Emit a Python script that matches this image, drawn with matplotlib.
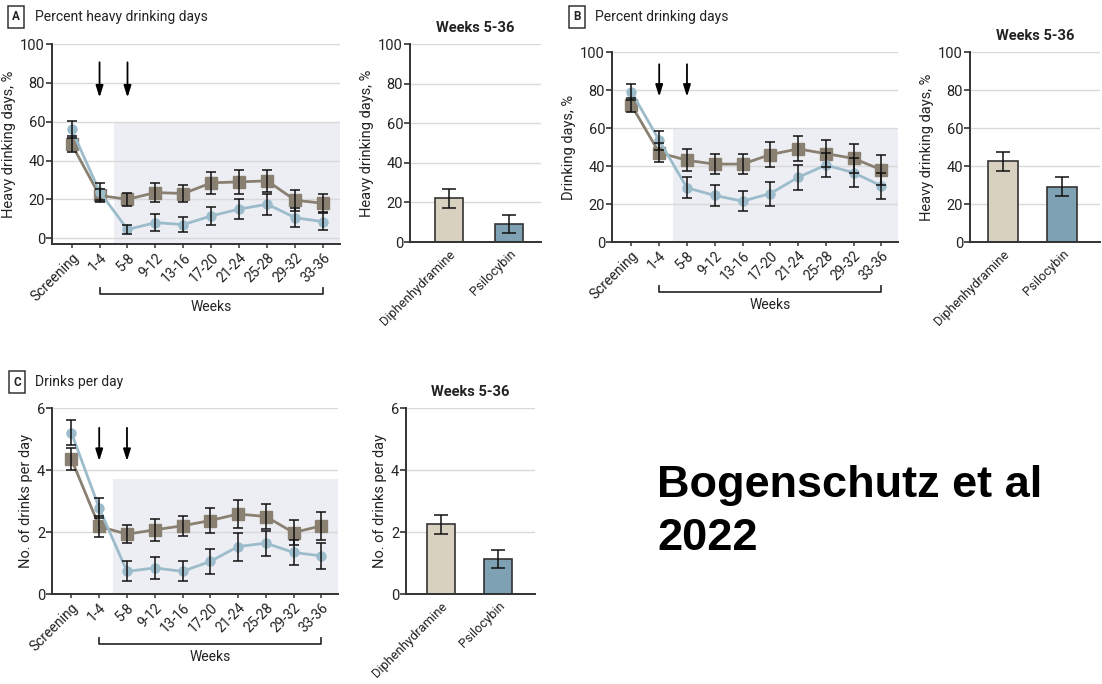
import matplotlib
matplotlib.use("Agg")
import matplotlib.pyplot as plt
from matplotlib.patches import Rectangle

plt.rcParams['font.family'] = ['Roboto', 'DejaVu Sans']

W, H = 1102, 684

weeks = ["Screening", "1-4", "5-8", "9-12", "13-16", "17-20", "21-24", "25-28", "29-32", "33-36"]
groups = ["Diphenhydramine", "Psilocybin"]

# A: percent heavy drinking days
A_diph = [48.5, 22, 20, 23.5, 23, 28.5, 29, 29.5, 19.5, 18]
A_diph_err = [4, 3.5, 3.5, 5, 4.5, 5.5, 6, 5.5, 5.5, 4.5]
A_psil = [56, 24, 4.5, 8, 7, 11.5, 15, 17.5, 10.5, 8.5]
A_psil_err = [4.5, 4.5, 2.5, 4.5, 4, 4.5, 5, 5.5, 5, 4.5]
A_bar = [22, 9]
A_bar_err = [5, 4.5]

# B: percent drinking days
B_diph = [72, 47, 43, 41, 41, 46, 49, 46.5, 44, 38]
B_diph_err = [3.8, 5, 5.8, 5.4, 5.4, 6.5, 6.6, 7, 7.8, 8]
B_psil = [79, 53.5, 28.5, 24.5, 21.5, 25.5, 34, 40.5, 36.5, 29.5]
B_psil_err = [4, 5, 5.6, 5.4, 5.4, 6.3, 6.5, 6.5, 7.5, 6.7]
B_bar = [42.5, 29]
B_bar_err = [5, 5]

# C: drinks per day
C_diph = [4.35, 2.18, 1.93, 2.07, 2.2, 2.37, 2.58, 2.5, 1.98, 2.2]
C_diph_err = [0.35, 0.33, 0.3, 0.36, 0.32, 0.4, 0.45, 0.4, 0.4, 0.45]
C_psil = [5.2, 2.77, 0.73, 0.84, 0.73, 1.05, 1.53, 1.64, 1.34, 1.23]
C_psil_err = [0.4, 0.32, 0.32, 0.36, 0.32, 0.4, 0.45, 0.4, 0.4, 0.43]
C_bar = [2.25, 1.13]
C_bar_err = [0.3, 0.28]

DIPH_LINE = "#8a8072"
PSIL_LINE = "#9dbccb"
DIPH_BAR = "#d9d1c0"
PSIL_BAR = "#7ea2b3"
SHADE = "#eceef3"
GRID = "#d9d9d9"
SPINE = "#333333"
TXT = "#222222"

fig = plt.figure(figsize=(W / 100, H / 100), dpi=100)


def px_axes(left, top, right, bottom):
    return fig.add_axes([left / W, 1 - bottom / H, (right - left) / W, (bottom - top) / H])


def style_axes(ax, yticks):
    for s in ("top", "right"):
        ax.spines[s].set_visible(False)
    for s in ("left", "bottom"):
        ax.spines[s].set_color(SPINE)
        ax.spines[s].set_linewidth(1.4)
    ax.set_yticks(yticks)
    ax.tick_params(axis="y", length=4, width=1.2, color=SPINE, labelsize=10.5, labelcolor=TXT, pad=1)
    ax.grid(axis="y", color=GRID, linewidth=1.0)
    ax.set_axisbelow(True)


def line_panel(rect, diph, diph_err, psil, psil_err, ylim, yticks, ylabel, shade_top, arrow, height_px):
    ax = px_axes(*rect)
    x = list(range(len(weeks)))
    ax.set_xlim(-0.7, 9.6)
    ax.set_ylim(*ylim)
    style_axes(ax, yticks)
    ax.add_patch(Rectangle((1.5, ylim[0]), 9.6 - 1.5, shade_top - ylim[0],
                           facecolor=SHADE, edgecolor="none", zorder=0))
    ax.plot(x, diph, color=DIPH_LINE, lw=2, marker="s", ms=8, zorder=3)
    ax.plot(x, psil, color=PSIL_LINE, lw=2, marker="o", ms=6.5, zorder=3)
    ax.errorbar(x, diph, yerr=diph_err, fmt="none", ecolor="#111111", elinewidth=1.1, capsize=3.5, capthick=1.1, zorder=4)
    ax.errorbar(x, psil, yerr=psil_err, fmt="none", ecolor="#111111", elinewidth=1.1, capsize=3.5, capthick=1.1, zorder=4)
    ax.set_xticks(x)
    ax.set_xticklabels(weeks, rotation=45, ha="right", rotation_mode="anchor", fontsize=10, color=TXT)
    ax.tick_params(axis="x", length=3, width=1.1, color=SPINE, pad=2)
    ax.set_ylabel(ylabel, fontsize=10.5, color=TXT, labelpad=3)
    # dosing arrows at weeks 1-4 and 5-8
    for xi in (1, 2):
        ax.annotate("", xy=(xi, arrow[1]), xytext=(xi, arrow[0]),
                    arrowprops=dict(arrowstyle="-|>,head_length=0.7,head_width=0.22", color="black", lw=1.3))
    # bracket over the treatment weeks
    yb = -50 / height_px
    tr = ax.get_xaxis_transform()
    ax.plot([1, 1, 9, 9], [yb + 6 / height_px, yb, yb, yb + 6 / height_px], color=SPINE, lw=1.3,
            transform=tr, clip_on=False)
    ax.text(5, yb - 6 / height_px, "Weeks", transform=tr, ha="center", va="top", fontsize=10, color=TXT)
    return ax


def bar_panel(rect, vals, errs, ylim, yticks, ylabel, xlim, width):
    ax = px_axes(*rect)
    x = list(range(len(groups)))
    ax.set_xlim(*xlim)
    ax.set_ylim(*ylim)
    style_axes(ax, yticks)
    ax.bar(x, vals, width=width, color=[DIPH_BAR, PSIL_BAR], edgecolor=SPINE, linewidth=1.2, zorder=2)
    ax.errorbar(x, vals, yerr=errs, fmt="none", ecolor="#111111", elinewidth=1.1, capsize=5, capthick=1.1, zorder=3)
    ax.set_xticks(x)
    ax.set_xticklabels(groups, rotation=45, ha="right", rotation_mode="anchor", fontsize=9.3, color=TXT)
    ax.tick_params(axis="x", length=0, pad=4)
    ax.set_ylabel(ylabel, fontsize=10.5, color=TXT, labelpad=3)
    ax.set_title("Weeks 5-36", fontsize=10.5, fontweight="bold", color=TXT, pad=9)
    return ax


line_panel((52, 44, 340, 244), A_diph, A_diph_err, A_psil, A_psil_err, (-3, 100), [0, 20, 40, 60, 80, 100],
           "Heavy drinking days, %", 60, (92, 71), 200)
bar_panel((410, 44, 541, 242), A_bar, A_bar_err, (0, 100), [0, 20, 40, 60, 80, 100],
          "Heavy drinking days, %", (-0.64, 1.53), 0.46)

line_panel((612, 52, 898, 242), B_diph, B_diph_err, B_psil, B_psil_err, (0, 100), [0, 20, 40, 60, 80, 100],
           "Drinking days, %", 60, (95, 75), 190)
bar_panel((970, 52, 1100, 242), B_bar, B_bar_err, (0, 100), [0, 20, 40, 60, 80, 100],
          "Heavy drinking days, %", (-0.56, 1.64), 0.5)

line_panel((52, 408, 338, 594), C_diph, C_diph_err, C_psil, C_psil_err, (0, 6), [0, 2, 4, 6],
           "No. of drinks per day", 3.7, (5.45, 4.2), 186)
bar_panel((406, 408, 535, 594), C_bar, C_bar_err, (0, 6), [0, 2, 4, 6],
          "No. of drinks per day", (-0.61, 1.65), 0.49)

# panel headers
for letter, lx, tx, ty, title in [("A", 16, 35, 17, "Percent heavy drinking days"),
                                   ("B", 577, 595, 17, "Percent drinking days"),
                                   ("C", 17, 35, 382, "Drinks per day")]:
    fig.text(lx / W, 1 - ty / H, letter, ha="center", va="center", fontsize=8.5, fontweight="bold", color=TXT,
             bbox=dict(boxstyle="square,pad=0.35", facecolor="white", edgecolor=SPINE, linewidth=1.1))
    fig.text(tx / W, 1 - ty / H, title, ha="left", va="center", fontsize=10, color=TXT)

fig.text(657 / W, 1 - 550 / H, "Bogenschutz et al\n2022", ha="left", va="baseline",
         fontsize=32.5, fontweight="bold", family="Liberation Sans", color="black", linespacing=1.37)

fig.savefig("out.png", dpi=100)
